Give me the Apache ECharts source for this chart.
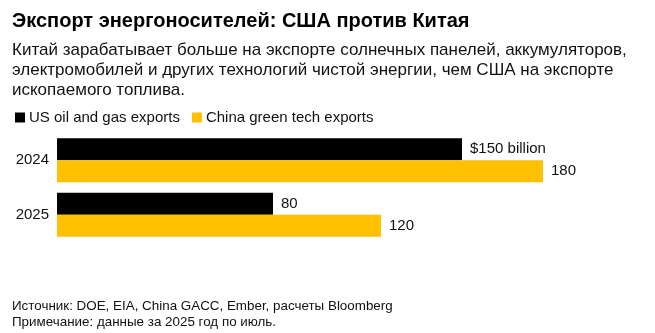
<!DOCTYPE html>
<html><head><meta charset="utf-8">
<script src="https://cdn.jsdelivr.net/npm/echarts@6/dist/echarts.min.js"></script>
<style>html,body{margin:0;padding:0;background:#fff}#c{width:655px;height:333px}</style>
</head><body><div id="c"></div>
<script>
const categories = ['2024', '2025'];
const usOilGas = [150, 80];
const chinaGreen = [180, 120];
const usLabels = ['$150 billion', '80'];
const chinaLabels = ['180', '120'];
const seriesNames = ['US oil and gas exports', 'China green tech exports'];

const font = '"Liberation Sans", Arial, sans-serif';
const chart = echarts.init(document.getElementById('c'), null, {renderer: 'canvas'});
chart.setOption({
  animation: false,
  backgroundColor: '#fff',
  title: [
    {text: 'Экспорт энергоносителей: США против Китая', left: 12, top: 10, padding: 0,
     textStyle: {fontFamily: font, fontSize: 20, fontWeight: 'bold', color: '#000', lineHeight: 22}},
    {text: 'Китай зарабатывает больше на экспорте солнечных панелей, аккумуляторов,\nэлектромобилей и других технологий чистой энергии, чем США на экспорте\nископаемого топлива.',
     left: 12, top: 40, padding: 0,
     textStyle: {fontFamily: font, fontSize: 17, fontWeight: 'normal', color: '#111', lineHeight: 20}},
    {text: 'Источник: DOE, EIA, China GACC, Ember, расчеты Bloomberg\nПримечание: данные за 2025 год по июль.',
     left: 12, top: 298, padding: 0,
     textStyle: {fontFamily: font, fontSize: 13.4, fontWeight: 'normal', color: '#111', lineHeight: 16}}
  ],
  legend: {
    left: 15, top: 110, padding: 0, icon: 'rect', itemWidth: 10, itemHeight: 10, itemGap: 12,
    textStyle: {fontFamily: font, fontSize: 15, color: '#111', padding: [0, 0, 0, -1]},
    data: seriesNames
  },
  grid: {left: 57, right: 4, top: 133, height: 109},
  xAxis: {type: 'value', min: 0, max: 220, show: false},
  yAxis: {
    type: 'category', data: categories, inverse: true,
    axisLine: {show: false}, axisTick: {show: false},
    axisLabel: {fontFamily: font, fontSize: 15, color: '#111', margin: 8}
  },
  series: [
    {name: seriesNames[0], type: 'bar', data: usOilGas, barWidth: 22, barGap: '0%',
     itemStyle: {color: '#000'},
     label: {show: true, position: 'right', distance: 8, fontFamily: font, fontSize: 15, color: '#111',
       formatter: p => usLabels[p.dataIndex]}},
    {name: seriesNames[1], type: 'bar', data: chinaGreen, barWidth: 22,
     itemStyle: {color: '#FFC000'},
     label: {show: true, position: 'right', distance: 8, fontFamily: font, fontSize: 15, color: '#111',
       formatter: p => chinaLabels[p.dataIndex]}}
  ]
});
</script></body></html>
